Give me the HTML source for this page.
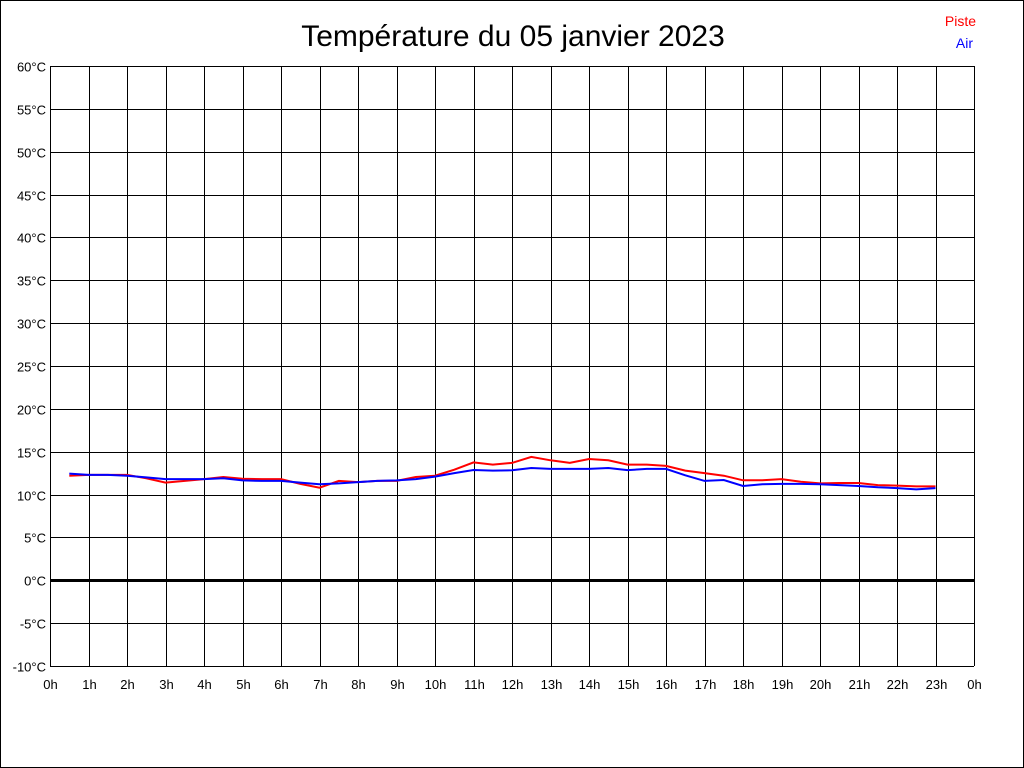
<!DOCTYPE html>
<html><head><meta charset="utf-8"><style>
body{margin:0;background:#fff;}
svg{display:block;font-family:"Liberation Sans",sans-serif;}
</style></head><body>
<svg id="chart" width="1024" height="768" xmlns="http://www.w3.org/2000/svg">
<rect x="0.5" y="0.5" width="1023" height="767" fill="#fff" stroke="#000"/>
<text x="513" y="46" font-size="30" text-anchor="middle">Température du 05 janvier 2023</text>
<text x="976" y="26" font-size="14" fill="#f00" text-anchor="end">Piste</text>
<text x="973" y="48" font-size="14" fill="#00f" text-anchor="end">Air</text>
<g id="grid"></g><g id="series"></g>
</svg>
<script>
const hours = [0.5,1,1.5,2,2.5,3,3.5,4,4.5,5,5.5,6,6.5,7,7.5,8,8.5,9,9.5,10,10.5,11,11.5,12,12.5,13,13.5,14,14.5,15,15.5,16,16.5,17,17.5,18,18.5,19,19.5,20,20.5,21,21.5,22,22.5,23];
const piste = [12.2,12.3,12.3,12.3,11.9,11.4,11.6,11.8,12.05,11.85,11.8,11.8,11.25,10.8,11.6,11.45,11.6,11.6,12.05,12.2,12.9,13.75,13.5,13.7,14.4,14.0,13.7,14.15,14.0,13.5,13.5,13.35,12.8,12.5,12.2,11.67,11.67,11.8,11.5,11.3,11.35,11.35,11.1,11.05,10.95,10.95];
const air = [12.45,12.3,12.3,12.2,12.0,11.8,11.8,11.8,11.9,11.65,11.6,11.6,11.4,11.2,11.3,11.45,11.6,11.65,11.8,12.1,12.5,12.87,12.8,12.83,13.1,13.0,13.0,13.0,13.1,12.85,13.0,13.0,12.25,11.6,11.7,11.0,11.2,11.25,11.25,11.2,11.1,11.0,10.85,10.75,10.6,10.75];
const yTicks = [-10,-5,0,5,10,15,20,25,30,35,40,45,50,55,60];
const xTicks = ["0h","1h","2h","3h","4h","5h","6h","7h","8h","9h","10h","11h","12h","13h","14h","15h","16h","17h","18h","19h","20h","21h","22h","23h","0h"];
const NS="http://www.w3.org/2000/svg";
const x0=50,x1=974,y0=666,y1=66;
const xs=h=>x0+(x1-x0)*h/24;
const ys=v=>y0-(y0-y1)*(v+10)/70;
const grid=document.getElementById('grid'),ser=document.getElementById('series');
function mk(tag,attrs,parent){const e=document.createElementNS(NS,tag);for(const k in attrs)e.setAttribute(k,attrs[k]);parent.appendChild(e);return e;}
yTicks.forEach(v=>{
  const y=Math.round(ys(v))+0.5;
  const l=mk('line',{x1:x0,x2:x1,y1:y,y2:y,stroke:'#000','stroke-width':v===0?3:1},grid);
  
  
  const t=mk('text',{x:46,y:y+5,'font-size':13,'text-anchor':'end'},grid);
  t.textContent=v+'°C';
  
  
});
xTicks.forEach((s,i)=>{
  const x=Math.round(xs(i))+0.5;
  const l=mk('line',{x1:x,x2:x,y1:y1,y2:y0,stroke:'#000','stroke-width':1},grid);
  
  
  const t=mk('text',{x:x,y:689,'font-size':13,'text-anchor':'middle'},grid);
  t.textContent=s;
  
  
});
function line(vals,col,name){
  const p=mk('polyline',{points:vals.map((v,i)=>xs(hours[i]).toFixed(1)+','+ys(v).toFixed(1)).join(' '),fill:'none',stroke:col,'stroke-width':2},ser);
  
  
}
line(piste,'#f00','piste-line');
line(air,'#00f','air-line');
</script>
</body></html>
